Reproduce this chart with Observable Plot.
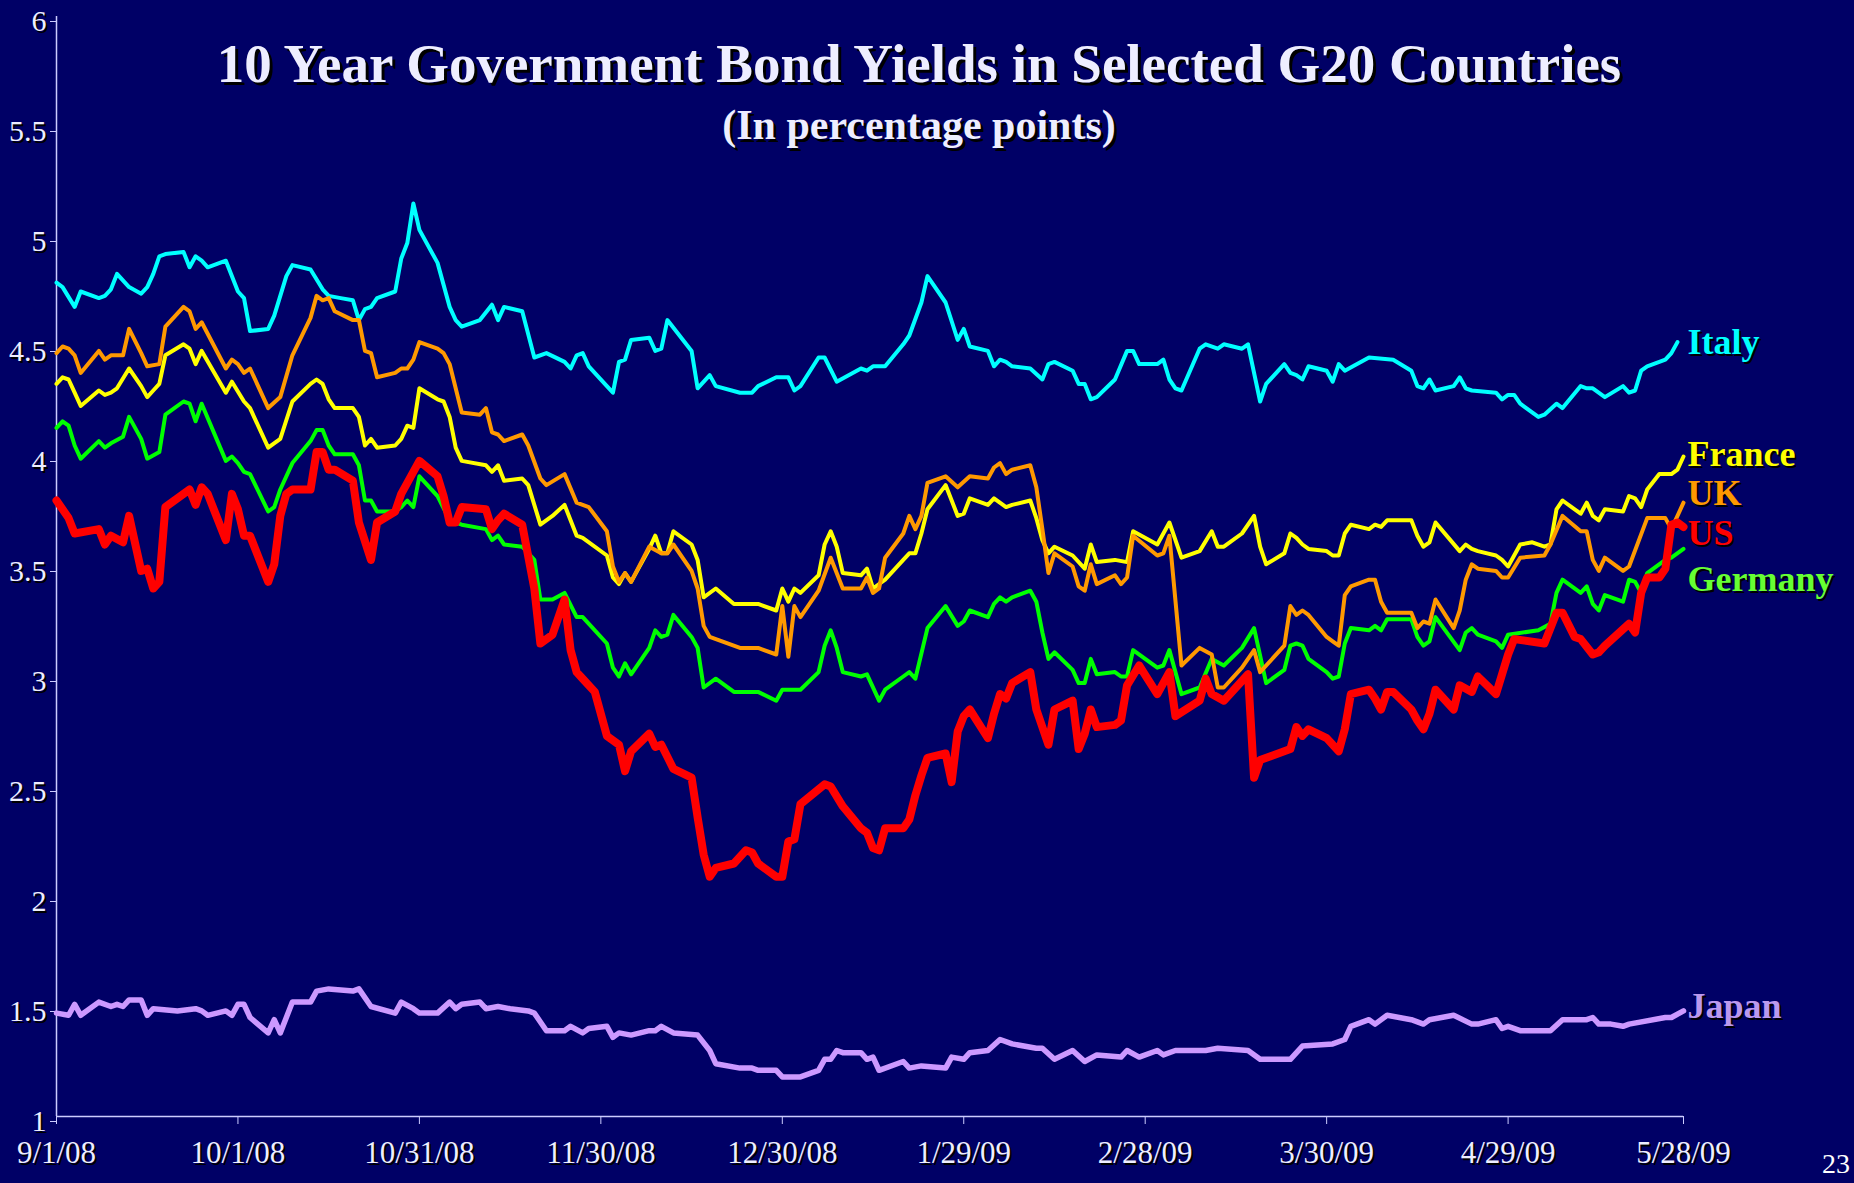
<!DOCTYPE html>
<html><head><meta charset="utf-8">
<script src="https://cdn.jsdelivr.net/npm/d3@7"></script>
<script src="https://cdn.jsdelivr.net/npm/@observablehq/plot@0.6"></script>
<style>
html,body{margin:0;padding:0;background:#000066;}
#wrap{position:relative;width:1854px;height:1183px;overflow:hidden;background:#000066;}
.ttl{position:absolute;left:0;width:1838px;text-align:center;font-family:"Liberation Serif","Times New Roman",serif;font-weight:bold;color:#eeeeff;text-shadow:3px 3px 0 #000;white-space:nowrap;line-height:1;}
#page{position:absolute;left:1822px;top:1150px;font-family:"Liberation Serif",serif;font-size:28px;color:#ffffff;line-height:1;}
svg text{text-shadow:2px 2px 0 #000;}
</style></head>
<body><div id="wrap">
<div id="chart"></div>
<div class="ttl" style="top:36px;font-size:55px;">10 Year Government Bond Yields in Selected G20 Countries</div>
<div class="ttl" style="top:104px;font-size:42px;">(In percentage points)</div>
<div id="page">23</div>
</div>
<script>
// day offsets from 9/1/08, yield in %
const italy = [[0,4.79],[1,4.77],[3,4.68],[4,4.75],[7,4.72],[8,4.73],[9,4.76],[10,4.83],[12,4.77],[14,4.74],[15,4.77],[16,4.83],[17,4.91],[18,4.92],[21,4.93],[22,4.86],[23,4.91],[24,4.89],[25,4.86],[28,4.89],[30,4.75],[31,4.72],[32,4.57],[35,4.58],[36,4.64],[38,4.82],[39,4.87],[42,4.85],[44,4.76],[45,4.73],[47,4.72],[49,4.71],[50,4.62],[51,4.67],[52,4.68],[53,4.72],[56,4.75],[57,4.90],[58,4.97],[59,5.15],[60,5.03],[63,4.88],[65,4.68],[66,4.62],[67,4.59],[70,4.62],[72,4.69],[73,4.62],[74,4.68],[77,4.66],[79,4.45],[81,4.47],[84,4.43],[85,4.40],[86,4.46],[87,4.47],[88,4.41],[91,4.32],[92,4.29],[93,4.43],[94,4.44],[95,4.53],[98,4.54],[99,4.48],[100,4.49],[101,4.62],[105,4.48],[106,4.31],[108,4.37],[109,4.32],[113,4.29],[115,4.29],[116,4.32],[119,4.36],[121,4.36],[122,4.30],[123,4.32],[126,4.45],[127,4.45],[129,4.34],[133,4.40],[134,4.39],[135,4.41],[137,4.41],[140,4.51],[141,4.55],[143,4.70],[144,4.82],[147,4.70],[149,4.53],[150,4.58],[151,4.50],[154,4.48],[155,4.41],[156,4.44],[157,4.43],[158,4.41],[161,4.40],[163,4.35],[164,4.42],[165,4.43],[168,4.39],[169,4.33],[170,4.33],[171,4.26],[172,4.27],[175,4.35],[177,4.48],[178,4.48],[179,4.42],[182,4.42],[183,4.44],[184,4.35],[185,4.31],[186,4.30],[189,4.49],[190,4.51],[192,4.49],[193,4.51],[196,4.49],[197,4.51],[199,4.25],[200,4.33],[203,4.42],[204,4.38],[205,4.37],[206,4.35],[207,4.41],[210,4.39],[211,4.34],[212,4.42],[213,4.39],[217,4.45],[221,4.44],[224,4.39],[225,4.32],[226,4.31],[227,4.35],[228,4.30],[231,4.32],[232,4.36],[233,4.31],[234,4.30],[238,4.29],[239,4.26],[240,4.28],[241,4.28],[242,4.24],[245,4.18],[246,4.19],[248,4.24],[249,4.22],[252,4.32],[253,4.31],[254,4.31],[256,4.27],[259,4.32],[260,4.29],[261,4.30],[262,4.39],[263,4.41],[266,4.44],[267,4.47],[268,4.52]];

const france = [[0,4.33],[1,4.36],[2,4.35],[3,4.29],[4,4.23],[7,4.30],[8,4.28],[9,4.29],[10,4.31],[12,4.40],[14,4.32],[15,4.27],[16,4.30],[17,4.33],[18,4.46],[21,4.51],[22,4.49],[23,4.42],[24,4.48],[28,4.29],[29,4.34],[31,4.25],[32,4.22],[35,4.04],[37,4.08],[39,4.25],[42,4.33],[43,4.35],[44,4.33],[45,4.26],[46,4.22],[49,4.22],[50,4.18],[51,4.05],[52,4.08],[53,4.04],[56,4.05],[57,4.08],[58,4.14],[59,4.13],[60,4.31],[63,4.26],[64,4.25],[65,4.18],[66,4.04],[67,3.98],[71,3.96],[72,3.93],[73,3.96],[74,3.89],[77,3.90],[78,3.87],[80,3.69],[82,3.73],[84,3.78],[86,3.64],[87,3.63],[91,3.55],[92,3.45],[93,3.42],[94,3.47],[95,3.43],[98,3.58],[99,3.64],[100,3.56],[101,3.56],[102,3.66],[105,3.60],[106,3.53],[107,3.36],[109,3.40],[112,3.33],[116,3.33],[119,3.30],[120,3.40],[121,3.34],[122,3.40],[123,3.38],[126,3.46],[127,3.60],[128,3.66],[129,3.59],[130,3.47],[133,3.46],[134,3.49],[135,3.40],[137,3.44],[140,3.53],[141,3.56],[142,3.56],[143,3.65],[144,3.76],[147,3.87],[149,3.73],[150,3.74],[151,3.81],[154,3.78],[155,3.81],[157,3.77],[158,3.78],[161,3.80],[162,3.72],[163,3.62],[164,3.56],[165,3.59],[168,3.55],[170,3.49],[171,3.60],[172,3.52],[175,3.53],[177,3.52],[178,3.66],[182,3.60],[184,3.70],[186,3.54],[189,3.57],[191,3.66],[192,3.59],[193,3.59],[196,3.65],[198,3.73],[199,3.59],[200,3.51],[203,3.56],[204,3.65],[205,3.63],[206,3.60],[207,3.58],[210,3.57],[211,3.55],[212,3.55],[213,3.65],[214,3.69],[217,3.67],[218,3.69],[219,3.68],[220,3.71],[224,3.71],[225,3.64],[226,3.59],[227,3.61],[228,3.70],[232,3.57],[233,3.60],[234,3.58],[235,3.57],[238,3.55],[239,3.53],[240,3.50],[242,3.60],[244,3.61],[246,3.59],[247,3.60],[248,3.76],[249,3.80],[252,3.74],[253,3.79],[254,3.73],[255,3.71],[256,3.76],[259,3.75],[260,3.82],[261,3.81],[262,3.77],[263,3.85],[265,3.92],[267,3.92],[268,3.94],[269,4.00]];

const uk = [[0,4.47],[1,4.50],[2,4.49],[3,4.46],[4,4.38],[7,4.48],[8,4.44],[9,4.46],[11,4.46],[12,4.58],[14,4.47],[15,4.41],[17,4.42],[18,4.59],[21,4.68],[22,4.66],[23,4.58],[24,4.61],[28,4.40],[29,4.44],[30,4.42],[31,4.38],[32,4.40],[35,4.22],[37,4.27],[39,4.46],[42,4.63],[43,4.73],[44,4.71],[45,4.72],[46,4.66],[49,4.62],[50,4.62],[51,4.48],[52,4.47],[53,4.36],[56,4.38],[57,4.40],[58,4.40],[59,4.44],[60,4.52],[63,4.49],[64,4.47],[65,4.42],[67,4.20],[70,4.19],[71,4.22],[72,4.11],[73,4.10],[74,4.07],[77,4.10],[78,4.05],[80,3.90],[81,3.87],[84,3.92],[86,3.79],[88,3.77],[91,3.66],[92,3.50],[93,3.43],[94,3.47],[95,3.43],[98,3.59],[100,3.56],[101,3.56],[102,3.60],[105,3.48],[106,3.40],[107,3.23],[108,3.18],[113,3.13],[116,3.13],[119,3.10],[120,3.32],[121,3.09],[122,3.32],[123,3.27],[126,3.39],[128,3.54],[130,3.40],[133,3.40],[134,3.45],[135,3.38],[136,3.40],[137,3.54],[140,3.65],[141,3.73],[142,3.67],[143,3.73],[144,3.88],[147,3.91],[149,3.86],[151,3.91],[154,3.90],[155,3.95],[156,3.97],[157,3.92],[158,3.94],[161,3.96],[162,3.86],[163,3.67],[164,3.47],[165,3.56],[168,3.50],[169,3.41],[170,3.39],[171,3.51],[172,3.42],[175,3.46],[176,3.42],[177,3.45],[178,3.64],[182,3.55],[183,3.56],[184,3.64],[186,3.05],[189,3.13],[191,3.10],[192,2.95],[193,2.95],[196,3.04],[198,3.12],[199,3.02],[203,3.14],[204,3.32],[205,3.28],[206,3.30],[207,3.28],[210,3.18],[211,3.16],[212,3.14],[213,3.37],[214,3.41],[217,3.44],[218,3.44],[219,3.34],[220,3.29],[224,3.29],[225,3.22],[226,3.25],[227,3.24],[228,3.35],[231,3.22],[232,3.30],[233,3.44],[234,3.51],[235,3.49],[238,3.48],[239,3.45],[240,3.45],[242,3.54],[246,3.55],[247,3.60],[249,3.73],[252,3.66],[253,3.66],[254,3.53],[255,3.48],[256,3.54],[259,3.48],[260,3.50],[263,3.72],[266,3.72],[267,3.67],[269,3.79]];

const germany = [[0,4.13],[1,4.16],[2,4.14],[3,4.05],[4,3.99],[7,4.07],[8,4.04],[9,4.06],[11,4.09],[12,4.18],[14,4.08],[15,3.99],[17,4.02],[18,4.19],[21,4.25],[22,4.24],[23,4.16],[24,4.24],[28,3.98],[29,4.00],[30,3.97],[31,3.93],[32,3.92],[35,3.75],[36,3.77],[37,3.85],[39,3.97],[42,4.07],[43,4.12],[44,4.12],[45,4.05],[46,4.01],[49,4.01],[50,3.96],[51,3.80],[52,3.80],[53,3.75],[56,3.75],[57,3.77],[58,3.80],[59,3.77],[60,3.91],[63,3.82],[65,3.71],[67,3.69],[71,3.67],[72,3.62],[73,3.64],[74,3.60],[77,3.59],[79,3.53],[80,3.35],[82,3.35],[84,3.38],[86,3.27],[87,3.27],[91,3.15],[92,3.04],[93,3.00],[94,3.06],[95,3.01],[98,3.13],[99,3.21],[100,3.18],[101,3.19],[102,3.28],[105,3.18],[106,3.13],[107,2.95],[109,2.99],[112,2.93],[116,2.93],[119,2.89],[120,2.94],[123,2.94],[126,3.02],[127,3.14],[128,3.21],[129,3.13],[130,3.02],[133,3.00],[134,3.01],[136,2.89],[137,2.94],[140,3.00],[141,3.02],[142,2.99],[144,3.22],[147,3.32],[149,3.23],[150,3.25],[151,3.30],[154,3.27],[155,3.33],[156,3.36],[157,3.34],[158,3.36],[161,3.39],[162,3.34],[163,3.20],[164,3.08],[165,3.11],[168,3.03],[169,2.97],[170,2.97],[171,3.08],[172,3.01],[175,3.02],[176,3.00],[177,3.00],[178,3.12],[182,3.04],[183,3.05],[184,3.12],[186,2.92],[189,2.95],[191,3.08],[193,3.05],[196,3.13],[198,3.22],[200,2.97],[203,3.03],[204,3.14],[205,3.15],[206,3.14],[207,3.08],[210,3.02],[211,2.99],[212,3.00],[213,3.15],[214,3.22],[217,3.21],[218,3.23],[219,3.21],[220,3.26],[224,3.26],[225,3.18],[226,3.14],[227,3.16],[228,3.27],[232,3.12],[233,3.20],[234,3.22],[235,3.19],[238,3.16],[239,3.13],[240,3.19],[245,3.21],[247,3.24],[248,3.38],[249,3.44],[252,3.38],[253,3.41],[254,3.33],[255,3.30],[256,3.37],[259,3.34],[260,3.44],[261,3.43],[262,3.38],[263,3.47],[266,3.53],[267,3.54],[269,3.58]];

const us = [[0,3.80],[1,3.76],[2,3.72],[3,3.65],[7,3.67],[8,3.60],[9,3.64],[11,3.61],[12,3.73],[14,3.48],[15,3.49],[16,3.40],[17,3.43],[18,3.77],[22,3.85],[23,3.78],[24,3.86],[25,3.83],[28,3.62],[29,3.83],[30,3.76],[31,3.64],[32,3.64],[35,3.43],[36,3.51],[37,3.73],[38,3.83],[39,3.85],[42,3.85],[43,4.02],[44,4.02],[45,3.94],[46,3.94],[49,3.89],[50,3.70],[52,3.53],[53,3.70],[56,3.75],[57,3.83],[59,3.93],[60,3.98],[63,3.91],[64,3.82],[65,3.70],[66,3.70],[67,3.77],[71,3.76],[72,3.67],[73,3.71],[74,3.74],[77,3.69],[79,3.40],[80,3.15],[82,3.19],[84,3.35],[85,3.12],[86,3.02],[87,2.99],[89,2.93],[91,2.73],[93,2.69],[94,2.57],[95,2.66],[98,2.74],[99,2.68],[100,2.69],[102,2.58],[105,2.54],[106,2.36],[107,2.19],[108,2.09],[109,2.13],[112,2.15],[114,2.21],[115,2.20],[116,2.15],[119,2.09],[120,2.09],[121,2.25],[122,2.26],[123,2.42],[127,2.51],[128,2.50],[130,2.41],[133,2.31],[134,2.29],[135,2.22],[136,2.21],[137,2.31],[140,2.31],[141,2.35],[142,2.46],[143,2.55],[144,2.63],[147,2.65],[148,2.52],[149,2.75],[150,2.82],[151,2.85],[154,2.72],[155,2.83],[156,2.92],[157,2.90],[158,2.97],[161,3.02],[162,2.85],[164,2.69],[165,2.85],[168,2.89],[169,2.67],[170,2.74],[171,2.85],[172,2.77],[175,2.78],[176,2.80],[177,2.96],[179,3.05],[182,2.92],[184,3.02],[185,2.82],[189,2.89],[190,2.99],[191,2.92],[193,2.89],[197,3.01],[198,2.54],[199,2.62],[204,2.67],[205,2.77],[206,2.73],[207,2.76],[210,2.72],[212,2.66],[213,2.76],[214,2.92],[217,2.94],[218,2.90],[219,2.85],[220,2.93],[221,2.93],[224,2.85],[225,2.80],[226,2.76],[227,2.83],[228,2.94],[231,2.85],[232,2.96],[234,2.93],[235,3.00],[238,2.92],[240,3.10],[241,3.17],[246,3.15],[248,3.29],[249,3.29],[251,3.18],[252,3.17],[254,3.10],[255,3.11],[256,3.14],[260,3.24],[261,3.20],[262,3.38],[263,3.45],[265,3.45],[266,3.49],[267,3.69],[268,3.70],[269,3.68]];

const japan = [[0,1.47],[2,1.46],[3,1.51],[4,1.46],[7,1.52],[9,1.50],[10,1.51],[11,1.50],[12,1.53],[14,1.53],[15,1.46],[16,1.49],[20,1.48],[23,1.49],[24,1.48],[25,1.46],[28,1.48],[29,1.46],[30,1.51],[31,1.51],[32,1.45],[35,1.38],[36,1.44],[37,1.38],[39,1.52],[42,1.52],[43,1.57],[45,1.58],[49,1.57],[50,1.58],[52,1.50],[56,1.47],[57,1.52],[59,1.49],[60,1.47],[63,1.47],[65,1.52],[66,1.49],[67,1.51],[70,1.52],[71,1.49],[73,1.50],[75,1.49],[78,1.48],[79,1.47],[81,1.39],[84,1.39],[85,1.41],[87,1.38],[88,1.40],[91,1.41],[92,1.36],[93,1.38],[95,1.37],[98,1.39],[99,1.39],[100,1.41],[102,1.38],[106,1.37],[108,1.30],[109,1.24],[113,1.22],[114,1.22],[115,1.22],[116,1.21],[119,1.21],[120,1.18],[123,1.18],[126,1.21],[127,1.26],[128,1.26],[129,1.30],[130,1.29],[133,1.29],[134,1.26],[135,1.27],[136,1.21],[140,1.25],[141,1.22],[143,1.23],[147,1.22],[148,1.27],[150,1.26],[151,1.29],[154,1.30],[156,1.35],[158,1.33],[162,1.31],[163,1.31],[165,1.26],[168,1.30],[170,1.25],[172,1.28],[176,1.27],[177,1.30],[179,1.27],[182,1.30],[183,1.28],[185,1.30],[190,1.30],[192,1.31],[197,1.30],[199,1.26],[204,1.26],[206,1.32],[211,1.33],[213,1.35],[214,1.41],[217,1.44],[218,1.42],[220,1.46],[224,1.44],[226,1.42],[227,1.44],[231,1.46],[234,1.42],[235,1.42],[238,1.44],[239,1.40],[240,1.41],[242,1.39],[247,1.39],[249,1.44],[251,1.44],[253,1.44],[254,1.45],[255,1.42],[257,1.42],[259,1.41],[260,1.42],[266,1.45],[267,1.45],[269,1.48]];

const seriesNames = ["Japan","Italy","Germany","France","UK","US"];
const labelNames = ["Italy","France","UK","US","Germany","Japan"];
const labelValues = [4.52, 4.01, 3.83, 3.65, 3.44, 1.50];
const yTicks = [1,1.5,2,2.5,3,3.5,4,4.5,5,5.5,6];
const xTickDays = [0,30,60,90,120,150,180,210,240,269];

const startDate = new Date(Date.UTC(2008,8,1));
const endDate = new Date(Date.UTC(2009,4,28));
const toDate = d => d3.utcDay.offset(startDate, d);

const dataByName = {Italy: italy, France: france, UK: uk, Germany: germany, US: us, Japan: japan};
const lineColor = {Italy:"#00ffff", France:"#ffff00", UK:"#ff9900", Germany:"#00ff00", US:"#ff0000", Japan:"#cc99ff"};
const labelColor = {Italy:"#00ffff", France:"#ffff00", UK:"#ff9900", Germany:"#66ff33", US:"#ff0000", Japan:"#bb99ee"};
const lineWidth = {Italy:4, France:4, UK:4, Germany:4, US:8, Japan:5.5};

const lineMarks = seriesNames.map(name =>
  Plot.lineY(dataByName[name].map(([d, v]) => ({date: toDate(d), value: v})), {
    x: "date", y: "value", stroke: lineColor[name], strokeWidth: lineWidth[name],
    strokeLinejoin: "round", strokeLinecap: "round"
  })
);

const labelMarks = labelNames.map((name, i) =>
  Plot.text([{date: endDate, value: labelValues[i], name}], {
    x: "date", y: "value", text: "name", fill: labelColor[name],
    textAnchor: "start", dx: 4, fontSize: 36, fontWeight: "bold",
    fontFamily: "Liberation Serif, Times New Roman, serif"
  })
);

const chart = Plot.plot({
  width: 1854, height: 1183,
  marginLeft: 56, marginRight: 171, marginTop: 16, marginBottom: 67,
  style: {background: "#000066", color: "#eeeeff", fontFamily: "Liberation Serif, Times New Roman, serif", overflow: "visible"},
  x: {type: "utc", domain: [startDate, endDate]},
  y: {domain: [1, 6]},
  marks: [
    Plot.axisY({ticks: yTicks, tickFormat: d => String(d), tickSize: 6, tickPadding: 4, stroke: "#ccccff", fill: "#eeeeff", fontSize: 30, dy: 5, label: null}),
    Plot.axisX({ticks: xTickDays.map(toDate), tickFormat: d3.utcFormat("%-m/%-d/%y"), tickSize: 8, tickPadding: 16, stroke: "#ccccff", fill: "#eeeeff", fontSize: 31, label: null}),
    Plot.ruleX([startDate], {stroke: "#ccccff", strokeWidth: 1.5}),
    Plot.ruleY([1], {stroke: "#ccccff", strokeWidth: 1.5}),
    ...lineMarks,
    ...labelMarks
  ]
});
document.getElementById("chart").appendChild(chart);
</script>
</body></html>
